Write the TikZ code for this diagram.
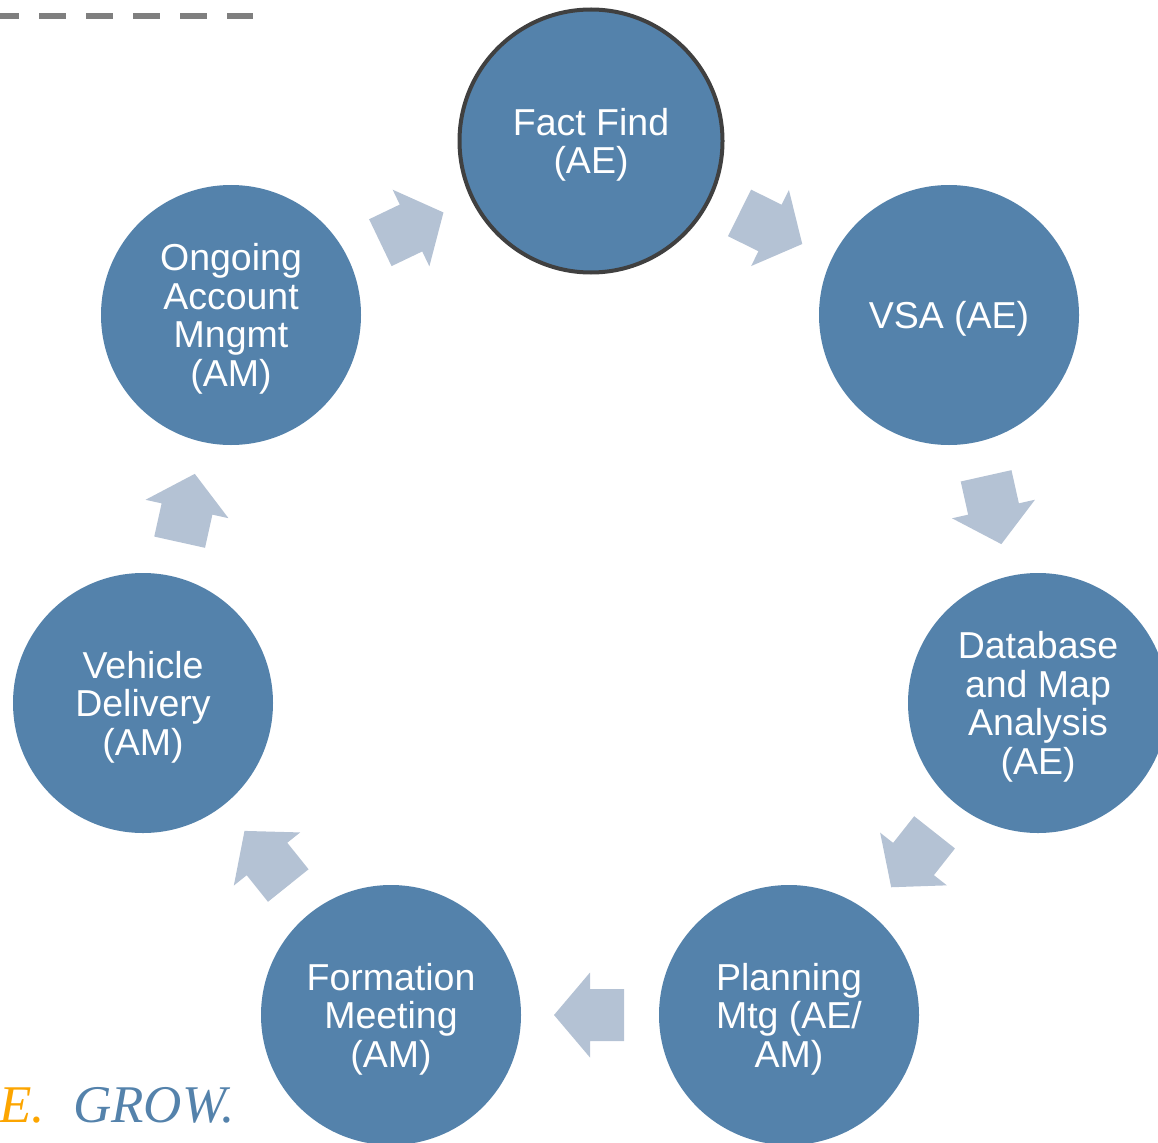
\documentclass[tikz,border=0pt]{standalone}
\usepackage{fontspec}
\setmainfont{Liberation Sans}
\newfontfamily\tagserif{Liberation Serif}
\usetikzlibrary{calc}
\definecolor{circblue}{RGB}{84,130,171}
\definecolor{arrowgray}{RGB}{180,194,212}
\definecolor{rimgray}{RGB}{64,64,64}
\definecolor{dashgray}{RGB}{127,127,127}
\definecolor{tagorange}{RGB}{252,165,0}
\newcommand\cyclearrow[3]{%
  \fill[arrowfill, shift={($(#1)!0.5!(#2)$)}, rotate=#3]
    (-34,-26) -- (0,-26) -- (0,-42.5) -- (36,0) -- (0,42.5) -- (0,26) -- (-34,26) -- cycle;}
\begin{document}
\begin{tikzpicture}[x=1pt,y=-1pt,
  stage/.style={circle, fill=circblue, inner sep=0pt, minimum size=260pt, text=white,
    align=center, text depth=0pt, font=\fontsize{37.5}{38.5}\selectfont},
  keystage/.style={stage, draw=rimgray, line width=4pt, minimum size=263pt},
  arrowfill/.style={fill=arrowgray},
  tagtext/.style={inner sep=0pt, font=\tagserif\itshape\fontsize{53}{60}\selectfont}]
\useasboundingbox (0,0) rectangle (1158,1142);

\draw[dashgray, line width=6pt, dash pattern=on 27pt off 20pt] (-8,16) coordinate (dashA) -- (253,16) coordinate (dashB);

\node[keystage] (fact) at (591,141) {Fact Find\\(AE)};
\node[stage] (vsa) at (949,315) {VSA (AE)};
\node[stage] (db) at (1038,703) {Database\\and Map\\Analysis\\(AE)};
\node[stage] (plan) at (789,1015) {Planning\\Mtg (AE/\\AM)};
\node[stage] (form) at (391,1015) {Formation\\Meeting\\(AM)};
\node[stage] (veh) at (143,703) {Vehicle\\Delivery\\(AM)};
\node[stage] (ongo) at (231,315) {Ongoing\\Account\\Mngmt\\(AM)};

\cyclearrow{ongo}{fact}{25.6}
\cyclearrow{fact}{vsa}{-26.4}
\cyclearrow{vsa}{db}{-77.4}
\cyclearrow{db}{plan}{-128.3}
\cyclearrow{plan}{form}{180}
\cyclearrow{form}{veh}{128.7}
\cyclearrow{veh}{ongo}{77.5}

\node[tagtext, anchor=base east, text=tagorange] (tagE) at (45,1122) {E.};
\node[tagtext, anchor=base west, text=circblue] (tagG) at (73,1122) {GROW.};
\end{tikzpicture}
\end{document}
